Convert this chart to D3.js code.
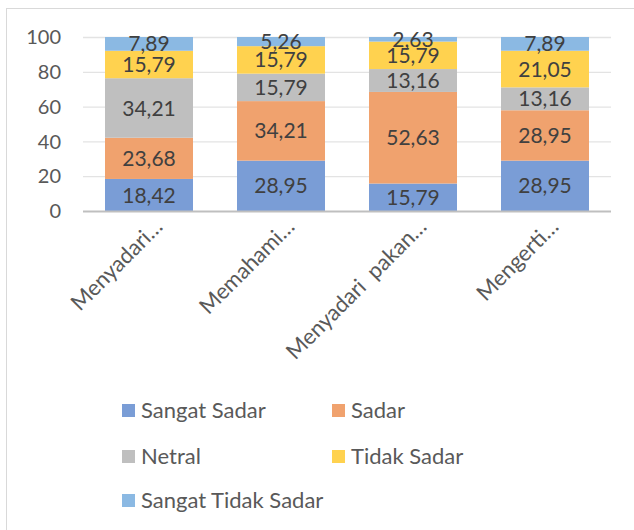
<!DOCTYPE html>
<html>
<head>
<meta charset="utf-8">
<script src="https://cdn.jsdelivr.net/npm/d3@7"></script>
<style>
  body { margin: 0; background: #fff; }
  svg { font-family: Lato, "Open Sans", sans-serif; }
</style>
</head>
<body>
<div id="chart"></div>
<script>
// data
const categories = ["Menyadari…", "Memahami…", "Menyadari  pakan…", "Mengerti…"];
const seriesNames = ["Sangat Sadar", "Sadar", "Netral", "Tidak Sadar", "Sangat Tidak Sadar"];
const sangatSadar = [18.42, 28.95, 15.79, 28.95];
const sadar = [23.68, 34.21, 52.63, 28.95];
const netral = [34.21, 15.79, 13.16, 13.16];
const tidakSadar = [15.79, 15.79, 15.79, 21.05];
const sangatTidakSadar = [7.89, 5.26, 2.63, 7.89];
const yTicks = [0, 20, 40, 60, 80, 100];

const colors = ["#7a9dd6", "#f0a26e", "#bfbfbf", "#ffd24f", "#8bb9e3"];

const W = 634, H = 530;
const svg = d3.select("#chart").append("svg")
    .attr("width", W).attr("height", H);

// chart border
svg.append("rect")
    .attr("x", 6.5).attr("y", 8.5)
    .attr("width", W + 10).attr("height", H + 10)
    .attr("fill", "none").attr("stroke", "#d9d9d9");

// build rows for stacking
const rows = categories.map(function(c, i) {
  return {
    cat: c,
    "Sangat Sadar": sangatSadar[i],
    "Sadar": sadar[i],
    "Netral": netral[i],
    "Tidak Sadar": tidakSadar[i],
    "Sangat Tidak Sadar": sangatTidakSadar[i]
  };
});
const stacked = d3.stack().keys(seriesNames)(rows);

const x = d3.scaleBand().domain(categories).range([83, 611]).paddingInner(1 / 3).paddingOuter(1 / 6);
const y = d3.scaleLinear().domain([0, 100]).range([211, 37]);

// gridlines
svg.append("g")
  .selectAll("line")
  .data(yTicks.slice(1))
  .join("line")
    .attr("x1", 83).attr("x2", 611)
    .attr("y1", d => y(d) + 0.5).attr("y2", d => y(d) + 0.5)
    .attr("stroke", "#e3e3e3").attr("stroke-width", 1.3);

// y tick labels
svg.append("g")
  .selectAll("text")
  .data(yTicks)
  .join("text")
    .attr("x", 61).attr("y", d => y(d))
    .attr("dy", "0.36em")
    .attr("text-anchor", "end")
    .attr("font-size", 20)
    .attr("fill", "#595959")
    .text(d => d);

// bars
const layer = svg.append("g")
  .selectAll("g")
  .data(stacked)
  .join("g")
    .attr("fill", (d, i) => colors[i]);

layer.selectAll("rect")
  .data(d => d)
  .join("rect")
    .attr("x", d => x(d.data.cat))
    .attr("width", x.bandwidth())
    .attr("y", d => y(d[1]))
    .attr("height", d => y(d[0]) - y(d[1]));

// value labels
svg.append("g")
  .selectAll("g")
  .data(stacked)
  .join("g")
  .selectAll("text")
  .data(d => d)
  .join("text")
    .attr("x", d => x(d.data.cat) + x.bandwidth() / 2)
    .attr("y", d => (y(d[0]) + y(d[1])) / 2)
    .attr("dy", "0.36em")
    .attr("text-anchor", "middle")
    .attr("font-size", 21)
    .attr("fill", "#404040")
    .text(d => d3.format(".2f")(d[1] - d[0]).replace(".", ","));

// x axis line
svg.append("line")
    .attr("x1", 83).attr("x2", 611)
    .attr("y1", 211.5).attr("y2", 211.5)
    .attr("stroke", "#bfbfbf").attr("stroke-width", 2);

// category labels, rotated
svg.append("g")
  .selectAll("text")
  .data(categories)
  .join("text")
    .attr("transform", d => "translate(" + (x(d) + x.bandwidth() / 2 + 15) + ",228) rotate(-45)")
    .attr("text-anchor", "end")
    .attr("font-size", 22)
    .attr("fill", "#595959")
    .style("white-space", "pre")
    .text(d => d);

// legend
const legendPos = [[122, 410], [332, 410], [122, 456], [332, 456], [122, 500]];
const legend = svg.append("g")
  .selectAll("g")
  .data(seriesNames)
  .join("g")
    .attr("transform", (d, i) => "translate(" + legendPos[i][0] + "," + legendPos[i][1] + ")");
legend.append("rect")
    .attr("x", 0).attr("y", -6)
    .attr("width", 13).attr("height", 13)
    .attr("fill", (d, i) => colors[i]);
legend.append("text")
    .attr("x", 19).attr("dy", "0.36em")
    .attr("font-size", 22)
    .attr("fill", "#595959")
    .text(d => d);
</script>
</body>
</html>
